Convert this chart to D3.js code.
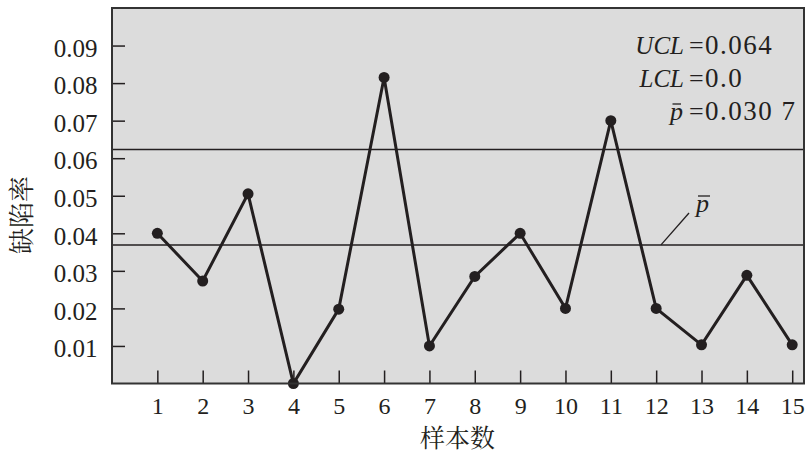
<!DOCTYPE html>
<html>
<head>
<meta charset="utf-8">
<script src="https://cdn.jsdelivr.net/npm/d3@7"></script>
<style>
    html, body { margin: 0; padding: 0; background: #fff; }
</style>
</head>
<body>
<svg id="chart" width="812" height="457"></svg>
<script>
// sample number and defect rate
var samples = [1, 2, 3, 4, 5, 6, 7, 8, 9, 10, 11, 12, 13, 14, 15];
var rates = [0.040, 0.0273, 0.0505, 0.0, 0.0198, 0.0815, 0.0100, 0.0285, 0.0400, 0.0200, 0.0700, 0.0200, 0.0103, 0.0288, 0.0103];
var yTicks = [0.01, 0.02, 0.03, 0.04, 0.05, 0.06, 0.07, 0.08, 0.09];
var uclLine = 0.0623;
var meanLine = 0.0369;
var notes = ["UCL", "LCL"];
var noteValues = ["0.064", "0.0", "0.030 7"];

(function () {

    var svg = d3.select("#chart");
    var left = 112, right = 804, top = 8, bottom = 383.5;
    var ink = "#231f20";
    var serif = "'Liberation Serif', 'Times New Roman', serif";
    var cjk = "'Noto Serif CJK SC', 'Noto Sans CJK SC', serif";

    var x = d3.scaleLinear().domain([0, 15.26]).range([left, right]);
    var y = d3.scaleLinear().domain([0, 0.1]).range([bottom, top]);

    // plot background
    svg.append("rect")
        .attr("x", left).attr("y", top)
        .attr("width", right - left).attr("height", bottom - top)
        .attr("fill", "#dcdcdc");

    // axes with inward ticks
    var xAxis = svg.append("g")
        .attr("transform", "translate(0," + bottom + ")")
        .call(d3.axisBottom(x).tickValues(samples).tickSize(-13).tickPadding(13).tickFormat(d3.format("d")));
    var yAxis = svg.append("g")
        .attr("transform", "translate(" + left + ",0)")
        .call(d3.axisLeft(y).tickValues(yTicks).tickSize(-13).tickPadding(14.5).tickFormat(d3.format(".2f")));

    [xAxis, yAxis].forEach(function (g) {
        g.select(".domain").remove();
        g.selectAll(".tick line").attr("stroke", ink).attr("stroke-width", 1.5);
        g.selectAll(".tick text")
            .style("font-family", serif)
            .style("fill", ink);
    });
    xAxis.selectAll(".tick text").style("font-size", "24px");
    yAxis.selectAll(".tick text").style("font-size", "25px").attr("dy", "0.43em");

    // control lines
    [uclLine, meanLine].forEach(function (v) {
        svg.append("line")
            .attr("x1", left).attr("x2", right)
            .attr("y1", y(v)).attr("y2", y(v))
            .attr("stroke", ink).attr("stroke-width", 1.5);
    });

    // data line and dots
    var pts = samples.map(function (s, i) { return [s, rates[i]]; });
    svg.append("path")
        .datum(pts)
        .attr("fill", "none")
        .attr("stroke", ink)
        .attr("stroke-width", 3)
        .attr("d", d3.line().x(function (d) { return x(d[0]); }).y(function (d) { return y(d[1]); }));

    svg.selectAll("circle.pt")
        .data(pts)
        .enter().append("circle")
        .attr("class", "pt")
        .attr("cx", function (d) { return x(d[0]); })
        .attr("cy", function (d) { return y(d[1]); })
        .attr("r", 5.5)
        .attr("fill", ink);

    // border on top
    svg.append("rect")
        .attr("x", left).attr("y", top)
        .attr("width", right - left).attr("height", bottom - top)
        .attr("fill", "none")
        .attr("stroke", "#333")
        .attr("stroke-width", 2);

    function txt(xp, yp, s, opts) {
        opts = opts || {};
        return svg.append("text")
            .attr("x", xp).attr("y", yp)
            .attr("text-anchor", opts.anchor || "start")
            .style("font-family", serif)
            .style("font-size", (opts.size || 26) + "px")
            .style("font-style", opts.italic ? "italic" : "normal")
            .style("letter-spacing", (opts.spacing || 0) + "px")
            .style("fill", ink)
            .text(s);
    }

    // annotation block
    var labX = 684, eqX = 689, numX = 705;
    notes.forEach(function (n, i) {
        var by = 53.5 + i * 33.5;
        txt(labX, by, n, { anchor: "end", italic: true, size: 25 });
        txt(eqX, by, "=");
        txt(numX, by, noteValues[i], { size: 27, spacing: 1.5 });
    });
    txt(labX - 1, 120, "p", { anchor: "end", italic: true });
    svg.append("line")
        .attr("x1", 672.5).attr("x2", 681)
        .attr("y1", 104).attr("y2", 104)
        .attr("stroke", ink).attr("stroke-width", 1.3);
    txt(eqX, 120, "=");
    txt(numX, 120, noteValues[2], { size: 27, spacing: 1.5 });

    // p-bar callout on the mean line
    svg.append("line")
        .attr("x1", 661).attr("y1", y(meanLine))
        .attr("x2", 689).attr("y2", 213)
        .attr("stroke", ink).attr("stroke-width", 1.3);
    txt(696, 212, "p", { italic: true });
    svg.append("line")
        .attr("x1", 698).attr("x2", 710)
        .attr("y1", 196).attr("y2", 196)
        .attr("stroke", ink).attr("stroke-width", 1.3);

    // axis titles
    svg.append("text")
        .attr("x", 457.5).attr("y", 446.5)
        .attr("text-anchor", "middle")
        .style("font-family", cjk)
        .style("font-size", "25px")
        .style("fill", ink)
        .text("样本数");
    svg.append("text")
        .attr("transform", "translate(31,215) rotate(-90)")
        .attr("text-anchor", "middle")
        .style("font-family", cjk)
        .style("font-size", "26px")
        .style("fill", ink)
        .text("缺陷率");

})();
</script>
</body>
</html>
